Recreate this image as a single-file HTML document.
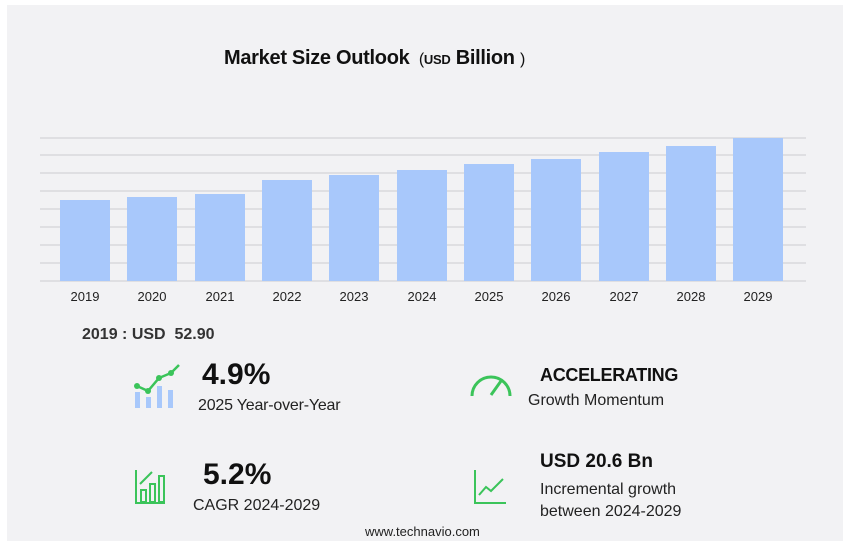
<!DOCTYPE html>
<html><head><meta charset="utf-8"><style>
body{margin:0;width:853px;height:546px;background:#fff;font-family:"Liberation Sans",sans-serif;position:relative;overflow:hidden}
.card{position:absolute;left:7px;top:5px;width:836px;height:536px;background:#f2f2f4}
.t{position:absolute;white-space:nowrap;color:#111}
</style></head><body>
<div class="card"></div>
<svg style="position:absolute;left:0;top:0" width="853" height="546">
<g stroke="#d4d4d8" stroke-width="1.2">
<line x1="40" x2="806" y1="138" y2="138"/><line x1="40" x2="806" y1="155" y2="155"/>
<line x1="40" x2="806" y1="173" y2="173"/><line x1="40" x2="806" y1="191" y2="191"/>
<line x1="40" x2="806" y1="209" y2="209"/><line x1="40" x2="806" y1="227" y2="227"/>
<line x1="40" x2="806" y1="245" y2="245"/><line x1="40" x2="806" y1="263" y2="263"/>
<line x1="40" x2="806" y1="281" y2="281"/></g>
<g fill="#a8c8fb">
<rect x="60" y="200" width="50" height="81"/><rect x="127" y="197" width="50" height="84"/>
<rect x="195" y="194" width="50" height="87"/><rect x="262" y="180" width="50" height="101"/>
<rect x="329" y="175" width="50" height="106"/><rect x="397" y="170" width="50" height="111"/>
<rect x="464" y="164" width="50" height="117"/><rect x="531" y="159" width="50" height="122"/>
<rect x="599" y="152" width="50" height="129"/><rect x="666" y="146" width="50" height="135"/>
<rect x="733" y="138" width="50" height="143"/></g>
<g font-family="Liberation Sans" font-size="13" fill="#222" text-anchor="middle">
<text x="85" y="301">2019</text><text x="152" y="301">2020</text><text x="220" y="301">2021</text>
<text x="287" y="301">2022</text><text x="354" y="301">2023</text><text x="422" y="301">2024</text>
<text x="489" y="301">2025</text><text x="556" y="301">2026</text><text x="624" y="301">2027</text>
<text x="691" y="301">2028</text><text x="758" y="301">2029</text></g>
<g fill="#a8c8fb"><rect x="135" y="392" width="5" height="16"/><rect x="146" y="397" width="5" height="11"/><rect x="157" y="386" width="5" height="22"/><rect x="168" y="390" width="5" height="18"/></g>
<polyline points="137,386 148,391 159,378 171,373 179,365" fill="none" stroke="#3bc45a" stroke-width="2.5"/>
<g fill="#3bc45a"><circle cx="137" cy="386" r="3"/><circle cx="148" cy="391" r="3"/><circle cx="159" cy="378" r="3"/><circle cx="171" cy="373" r="3"/></g>
<path d="M472,396 A19,19 0 1 1 510,396" fill="none" stroke="#3bc45a" stroke-width="3"/>
<line x1="491" y1="395" x2="501" y2="381" stroke="#3bc45a" stroke-width="3"/>
<g fill="none" stroke="#3bc45a" stroke-width="2"><path d="M136,470 V503 H165"/><rect x="141" y="490" width="5" height="12"/><rect x="150" y="484" width="5" height="18"/><rect x="159" y="476" width="5" height="26"/><path d="M140,484 L152,472"/></g>
<g fill="none" stroke="#3bc45a" stroke-width="2"><path d="M475,470 V503 H506"/><path d="M479,495 L486,487 L491,491 L503,479"/></g>
</svg>
<div class="t" style="left:224px;top:47px;font-size:20px;font-weight:bold;letter-spacing:-0.3px">Market Size Outlook <span style="font-size:16px;font-weight:normal">&nbsp;(</span><span style="font-size:13px">USD</span> Billion <span style="font-size:16px;font-weight:normal">)</span></div>
<div class="t" style="left:82px;top:326px;font-size:16px;font-weight:bold;color:#333">2019 : USD&nbsp; 52.90</div>
<div class="t" style="left:202px;top:358px;font-size:30px;font-weight:bold">4.9%</div>
<div class="t" style="left:198px;top:397px;font-size:16px;color:#222;letter-spacing:-0.2px">2025 Year-over-Year</div>
<div class="t" style="left:540px;top:365px;font-size:18px;font-weight:bold;letter-spacing:-0.3px">ACCELERATING</div>
<div class="t" style="left:528px;top:392px;font-size:16px;color:#222">Growth Momentum</div>
<div class="t" style="left:203px;top:458px;font-size:30px;font-weight:bold">5.2%</div>
<div class="t" style="left:193px;top:497px;font-size:16px;color:#222">CAGR 2024-2029</div>
<div class="t" style="left:540px;top:451px;font-size:19px;font-weight:bold">USD 20.6 Bn</div>
<div class="t" style="left:540px;top:481px;font-size:16px;color:#222">Incremental growth</div>
<div class="t" style="left:540px;top:503px;font-size:16px;color:#222">between 2024-2029</div>
<div class="t" style="left:365px;top:524px;font-size:13px;color:#222">www.technavio.com</div>
</body></html>
